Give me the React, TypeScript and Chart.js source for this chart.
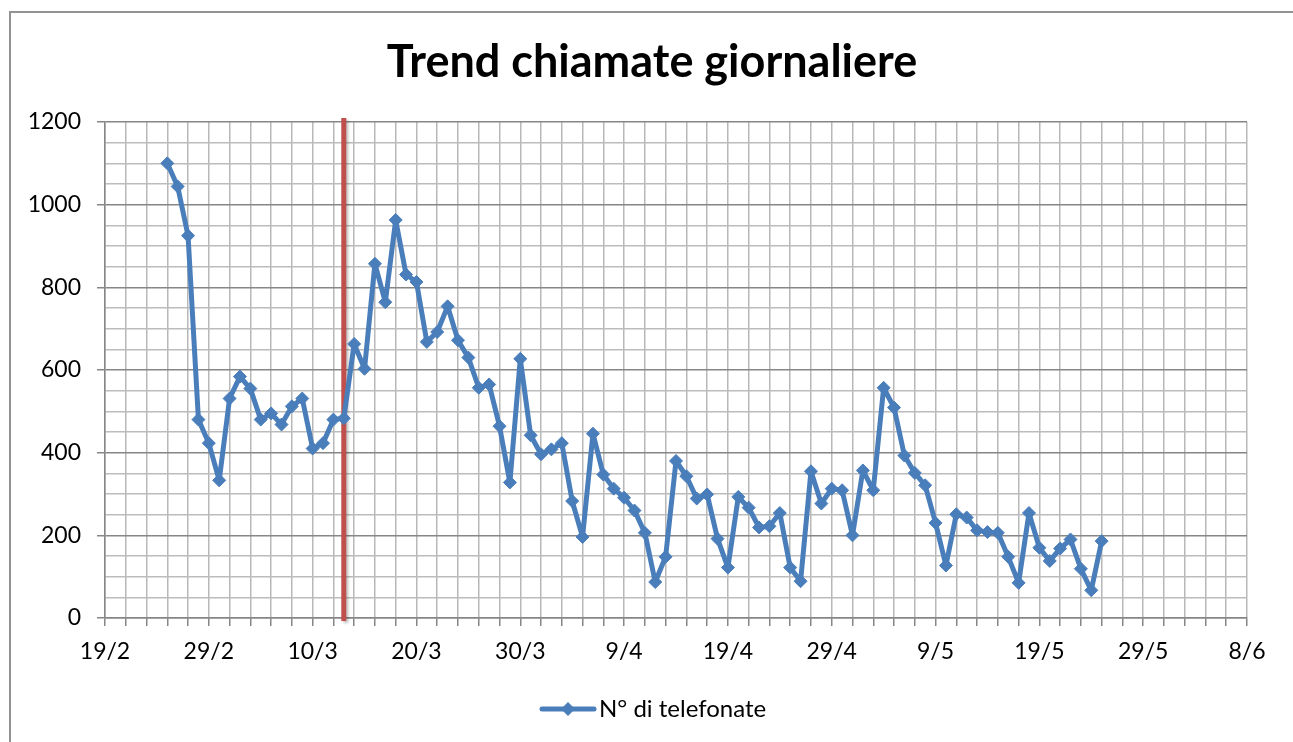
import React, { useEffect, useRef } from "react";
import { Chart, registerables } from "chart.js";

Chart.register(...registerables);

const TITLE = "Trend chiamate giornaliere";
const SERIES_LABEL = "N° di telefonate";
const AXIS_START = "19/2";
const AXIS_DAYS = 110;
const MARKER_DATE = "13/3";

const dates = [
  "25/2", "26/2", "27/2", "28/2", "29/2",
  "1/3", "2/3", "3/3", "4/3", "5/3", "6/3", "7/3", "8/3", "9/3", "10/3",
  "11/3", "12/3", "13/3", "14/3", "15/3", "16/3", "17/3", "18/3", "19/3", "20/3",
  "21/3", "22/3", "23/3", "24/3", "25/3", "26/3", "27/3", "28/3", "29/3", "30/3", "31/3",
  "1/4", "2/4", "3/4", "4/4", "5/4", "6/4", "7/4", "8/4", "9/4", "10/4",
  "11/4", "12/4", "13/4", "14/4", "15/4", "16/4", "17/4", "18/4", "19/4", "20/4",
  "21/4", "22/4", "23/4", "24/4", "25/4", "26/4", "27/4", "28/4", "29/4", "30/4",
  "1/5", "2/5", "3/5", "4/5", "5/5", "6/5", "7/5", "8/5", "9/5", "10/5",
  "11/5", "12/5", "13/5", "14/5", "15/5", "16/5", "17/5", "18/5", "19/5", "20/5",
  "21/5", "22/5", "23/5", "24/5", "25/5",
];

const calls = [
  1100, 1044, 925, 480, 423,
  333, 531, 584, 555, 480, 495, 468, 512, 531, 410,
  423, 480, 483, 663, 603, 857, 764, 963, 831, 813,
  668, 692, 754, 672, 630, 557, 565, 464, 328, 627, 442,
  396, 408, 423, 283, 196, 446, 347, 313, 291, 260,
  206, 87, 148, 380, 343, 289, 299, 192, 122, 293,
  267, 219, 222, 254, 122, 89, 355, 277, 313, 309,
  200, 357, 309, 557, 509, 393, 351, 321, 230, 127,
  251, 243, 212, 208, 206, 148, 85, 254, 170, 138,
  168, 190, 119, 67, 186,
];

const BLUE = "#4a7ebb";
const FONT = "Lato, 'Open Sans', sans-serif";

function dayOf(label: string): number {
  const [d, m] = label.split("/").map(Number);
  const [d0, m0] = AXIS_START.split("/").map(Number);
  return Math.round((Date.UTC(2020, m - 1, d) - Date.UTC(2020, m0 - 1, d0)) / 86400000);
}

function labelOf(day: number): string {
  const [d0, m0] = AXIS_START.split("/").map(Number);
  const dt = new Date(Date.UTC(2020, m0 - 1, d0) + day * 86400000);
  return `${dt.getUTCDate()}/${dt.getUTCMonth() + 1}`;
}

export default function App() {
  const ref = useRef<HTMLCanvasElement | null>(null);

  useEffect(() => {
    if (!ref.current) return;
    const points = dates.map((d, i) => ({ x: dayOf(d), y: calls[i] }));

    const markerPlugin = {
      id: "marker",
      beforeDatasetsDraw(chart: any) {
        const { ctx, chartArea, scales } = chart;
        const x = scales.x.getPixelForValue(dayOf(MARKER_DATE));
        ctx.save();
        ctx.shadowColor = "rgba(0,0,0,0.25)";
        ctx.shadowBlur = 3;
        ctx.shadowOffsetX = 2;
        ctx.shadowOffsetY = 2;
        ctx.strokeStyle = "#c0504d";
        ctx.lineWidth = 5;
        ctx.beginPath();
        ctx.moveTo(x, chartArea.top - 4);
        ctx.lineTo(x, chartArea.bottom + 3);
        ctx.stroke();
        ctx.restore();
      },
    };

    const textPlugin = {
      id: "titleAndLegend",
      afterDraw(chart: any) {
        const { ctx } = chart;
        ctx.save();
        ctx.fillStyle = "#000";
        ctx.font = `bold 45px ${FONT}`;
        ctx.textAlign = "center";
        ctx.textBaseline = "middle";
        ctx.fillText(TITLE, 652, 62);
        const y = 709;
        ctx.strokeStyle = BLUE;
        ctx.lineWidth = 5;
        ctx.lineCap = "round";
        ctx.beginPath();
        ctx.moveTo(542, y);
        ctx.lineTo(594, y);
        ctx.stroke();
        ctx.fillStyle = BLUE;
        ctx.beginPath();
        ctx.moveTo(568, y - 7);
        ctx.lineTo(575, y);
        ctx.lineTo(568, y + 7);
        ctx.lineTo(561, y);
        ctx.closePath();
        ctx.fill();
        ctx.fillStyle = "#000";
        ctx.font = `24px ${FONT}`;
        ctx.textAlign = "left";
        ctx.fillText(SERIES_LABEL, 599, y);
        ctx.restore();
      },
    };

    const chart = new Chart(ref.current, {
      type: "line",
      data: {
        datasets: [
          {
            label: SERIES_LABEL,
            data: points,
            borderColor: BLUE,
            backgroundColor: BLUE,
            borderWidth: 5,
            borderJoinStyle: "round",
            tension: 0,
            pointStyle: "rectRot",
            pointRadius: 6.5,
            pointBorderWidth: 1,
            pointBackgroundColor: BLUE,
            pointBorderColor: BLUE,
          },
        ],
      },
      options: {
        animation: false,
        responsive: false,
        devicePixelRatio: 1,
        layout: { padding: { left: 0, right: 46, top: 122, bottom: 64 } },
        plugins: {
          legend: { display: false },
          tooltip: { enabled: false },
          title: { display: false },
        },
        scales: {
          x: {
            type: "linear",
            min: 0,
            max: AXIS_DAYS,
            afterFit: (s: any) => {
              s.height = 60;
            },
            ticks: {
              stepSize: 2,
              autoSkip: false,
              maxRotation: 0,
              color: "#000",
              padding: 12,
              font: { family: FONT, size: 23 },
              callback: (v: any) => (Number(v) % 10 === 0 ? labelOf(Number(v)) : ""),
            },
            grid: {
              color: "#b8b8b8",
              lineWidth: 1.5,
              tickLength: 8,
              tickColor: "#868686",
            },
            border: { display: true, color: "#868686", width: 1.5 },
          },
          y: {
            min: 0,
            max: 1200,
            afterFit: (s: any) => {
              s.width = 105;
            },
            ticks: {
              stepSize: 50,
              autoSkip: false,
              color: "#000",
              padding: 16,
              font: { family: FONT, size: 23 },
              callback: (v: any) => (Number(v) % 200 === 0 ? String(v) : ""),
            },
            grid: {
              color: (c: any) => (c.tick && c.tick.value % 200 === 0 ? "#868686" : "#bcbcbc"),
              lineWidth: 1.5,
              tickLength: 8,
              tickColor: (c: any) =>
                c.tick && c.tick.value % 200 === 0 ? "#868686" : "rgba(0,0,0,0)",
            },
            border: { display: true, color: "#868686", width: 1.5 },
          },
        },
      },
      plugins: [markerPlugin, textPlugin],
    });
    return () => chart.destroy();
  }, []);

  return (
    <div style={{ position: "fixed", left: 0, top: 0, width: 1293, height: 742, overflow: "hidden", background: "#fff" }}>
      <div
        style={{
          position: "absolute",
          left: 9,
          top: 11,
          width: 1400,
          height: 800,
          border: "2px solid #939393",
          boxSizing: "border-box",
        }}
      />
      <canvas ref={ref} width={1293} height={742} style={{ position: "absolute", left: 0, top: 0, width: 1293, height: 742 }} />
    </div>
  );
}
